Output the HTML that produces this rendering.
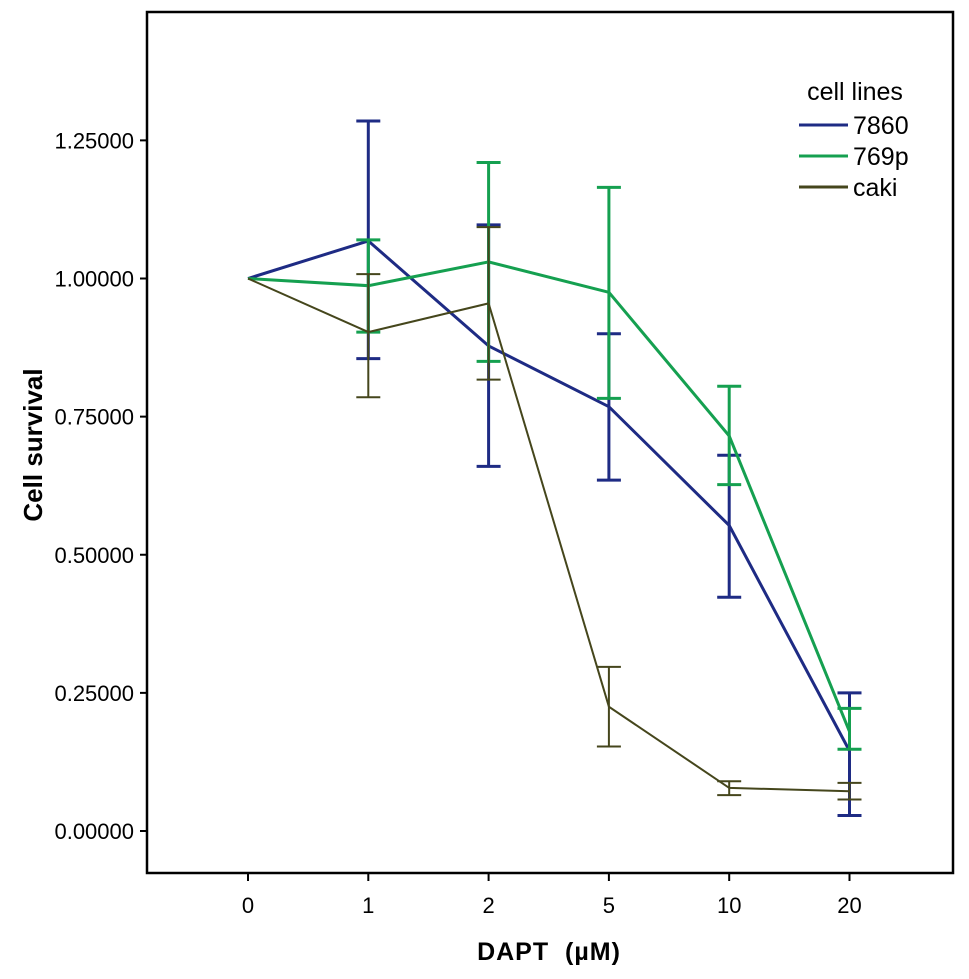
<!DOCTYPE html>
<html><head><meta charset="utf-8"><style>
html,body{margin:0;padding:0;background:#fff;}
svg{display:block;font-family:"Liberation Sans",sans-serif;}
</style></head><body>
<svg id="chart" width="969" height="979">
<g id="axes"></g><g id="series"></g>
<g>
<text x="855" y="100" font-size="25" text-anchor="middle">cell lines</text>
<line x1="799" y1="125" x2="848" y2="125" stroke="#1e2b84" stroke-width="3"/>
<text x="853" y="134" font-size="25">7860</text>
<line x1="799" y1="156" x2="848" y2="156" stroke="#15a050" stroke-width="3"/>
<text x="853" y="165" font-size="25">769p</text>
<line x1="799" y1="187" x2="848" y2="187" stroke="#45461c" stroke-width="3"/>
<text x="853" y="196" font-size="25">caki</text>
</g>
<text x="549" y="960" font-size="25" font-weight="bold" text-anchor="middle" letter-spacing="1" xml:space="preserve">DAPT  (µM)</text>
<text transform="translate(42,445) rotate(-90)" font-size="26" font-weight="bold" text-anchor="middle">Cell survival</text>
</svg>
<script>
const categories=["0","1","2","5","10","20"];
const yTicks=[0,0.25,0.5,0.75,1.0,1.25];
const yTickLabels=["0.00000","0.25000","0.50000","0.75000","1.00000","1.25000"];
const seriesNames=["7860","769p","caki"];
const mean7860=[1.0,1.068,0.878,0.768,0.553,0.145];
const lo7860=[1.0,0.855,0.66,0.635,0.423,0.028];
const hi7860=[1.0,1.285,1.097,0.9,0.68,0.25];
const mean769p=[1.0,0.987,1.03,0.975,0.715,0.18];
const lo769p=[1.0,0.903,0.85,0.783,0.627,0.148];
const hi769p=[1.0,1.07,1.21,1.165,0.805,0.222];
const meanCaki=[1.0,0.903,0.955,0.225,0.078,0.072];
const loCaki=[1.0,0.785,0.817,0.153,0.065,0.057];
const hiCaki=[1.0,1.008,1.093,0.297,0.09,0.087];

const NS="http://www.w3.org/2000/svg";
const L=147,R=953,T=12,B=873;
const y=v=>831-v*552.5;
const x=i=>248+i*120.3;
function mk(tag,attrs,parent){const e=document.createElementNS(NS,tag);for(const k in attrs)e.setAttribute(k,attrs[k]);parent.appendChild(e);return e;}
const axes=document.getElementById('axes'), ser=document.getElementById('series');
const frame=mk('rect',{x:L,y:T,width:R-L,height:B-T,fill:'none',stroke:'#000','stroke-width':2.5},axes);


yTicks.forEach((v,i)=>{
 const t=mk('line',{x1:L-7,x2:L,y1:y(v),y2:y(v),stroke:'#000','stroke-width':2},axes);
 
 
 const tx=mk('text',{x:L-13,y:y(v)+8,'font-size':22,'text-anchor':'end'},axes);
 tx.textContent=yTickLabels[i];
 
 
});
categories.forEach((c,i)=>{
 const t=mk('line',{x1:x(i),x2:x(i),y1:B,y2:B+8,stroke:'#000','stroke-width':2},axes);
 
 
 const tx=mk('text',{x:x(i),y:B+40,'font-size':22,'text-anchor':'middle'},axes);
 tx.textContent=c;
 
 
});
const defs=[[mean7860,lo7860,hi7860,'#1e2b84',3],[mean769p,lo769p,hi769p,'#15a050',3],[meanCaki,loCaki,hiCaki,'#45461c',2]];
defs.forEach(([m,lo,hi,col,w],s)=>{
 const g=mk('g',{},ser);
 
 
 const p=mk('polyline',{points:m.map((v,i)=>x(i)+','+y(v)).join(' '),fill:'none',stroke:col,'stroke-width':w},g);
 
 
 m.forEach((v,i)=>{
  if(hi[i]===lo[i])return;
  const e=mk('path',{d:`M${x(i)-12},${y(hi[i])}H${x(i)+12}M${x(i)},${y(hi[i])}V${y(lo[i])}M${x(i)-12},${y(lo[i])}H${x(i)+12}`,fill:'none',stroke:col,'stroke-width':w},g);
  
  
 });
});
</script>
</body></html>
